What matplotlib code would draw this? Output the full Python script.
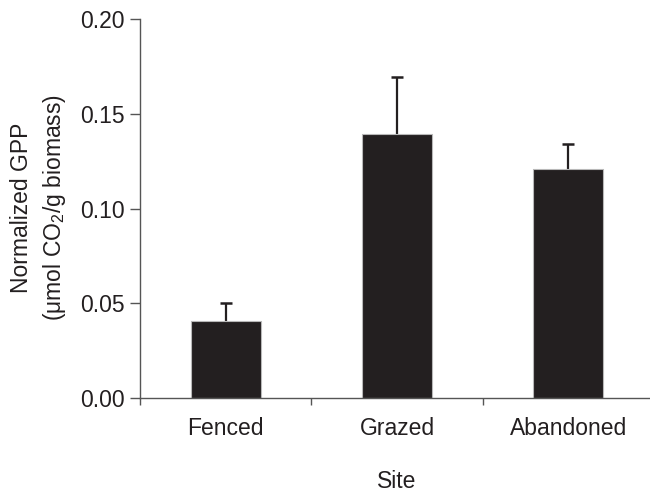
import matplotlib
matplotlib.use("Agg")
import matplotlib.pyplot as plt

sites = ["Fenced", "Grazed", "Abandoned"]
gpp = [0.0408, 0.1395, 0.1212]
err = [0.0094, 0.0303, 0.0130]
yticks = [0.00, 0.05, 0.10, 0.15, 0.20]

plt.rcParams['font.family'] = ['Liberation Sans', 'DejaVu Sans']
plt.rcParams['mathtext.fontset'] = 'custom'
plt.rcParams['mathtext.rm'] = 'Liberation Sans'
plt.rcParams['mathtext.it'] = 'Liberation Sans'
plt.rcParams['mathtext.default'] = 'regular'

FS = 16.5
TC = '#231f20'
W, H = 650, 494
fig = plt.figure(figsize=(W/100, H/100), dpi=100)
left, right, top, bottom = 140, 654, 19.5, 398
ax = fig.add_axes([left/W, 1-bottom/H, (right-left)/W, (bottom-top)/H])

x = list(range(len(sites)))
ax.bar(x, gpp, width=0.41, color=TC, edgecolor='#b8b8b8', linewidth=0.8, zorder=2)
tops = [g + e for g, e in zip(gpp, err)]
ax.vlines(x, gpp, tops, colors=TC, linewidth=1.6, zorder=1)
ax.plot(x, tops, linestyle='none', marker='_', markersize=9, markeredgewidth=1.8,
        color=TC, zorder=1)

ax.set_xlim(-0.5, 2.5)
ax.set_ylim(0, 0.20)
ax.set_yticks(yticks)
ax.set_yticklabels([f"{v:.2f}" for v in yticks], fontsize=FS, color=TC)
ax.set_xticks([-0.5, 0.5, 1.5, 2.5])
ax.set_xticklabels([])
ax.set_xticks(x, minor=True)
ax.set_xticklabels(sites, minor=True, fontsize=FS, color=TC)
ax.tick_params(axis='x', which='minor', length=0, pad=14)
ax.tick_params(axis='x', which='major', length=5, width=1, color='#555555', direction='out')
ax.tick_params(axis='y', length=7, width=1, color='#555555', direction='out', pad=4)

for s in ['top', 'right']:
    ax.spines[s].set_visible(False)
for s in ['left', 'bottom']:
    ax.spines[s].set_color('#555555')
    ax.spines[s].set_linewidth(1)

fig.text(22/W, 1-208/H, "Normalized GPP", rotation=90, ha='center', va='center',
         fontsize=FS, color=TC)
fig.text(54/W, 1-208/H, "(\u03bcmol CO$_2$/g biomass)", rotation=90, ha='center', va='center',
         fontsize=FS, color=TC)
fig.text(397/W, 1-481.7/H, "Site", ha='center', va='center', fontsize=FS, color=TC)

fig.savefig("out.png", dpi=100)
